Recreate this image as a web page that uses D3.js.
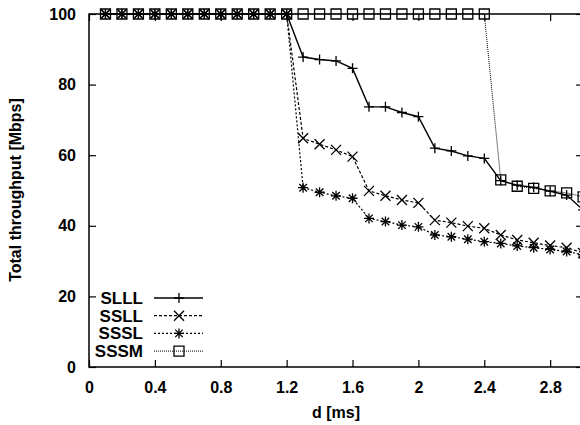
<!DOCTYPE html>
<html>
<head>
<meta charset="utf-8">
<script src="https://cdn.jsdelivr.net/npm/d3@7"></script>
<style>
  html, body { margin: 0; padding: 0; background: #fff; }
  svg { display: block; }
  text { font-family: "Liberation Sans", Arial, sans-serif; font-weight: bold; fill: #000; }
</style>
</head>
<body>
<script>
// d values (ms)
let dValues = [0.1,0.2,0.3,0.4,0.5,0.6,0.7,0.8,0.9,1.0,1.1,1.2,1.3,1.4,1.5,
               1.6,1.7,1.8,1.9,2.0,2.1,2.2,2.3,2.4,2.5,2.6,2.7,2.8,2.9,3.0];

let slll = [100,100,100,100,100,100,100,100,100,100,100,100,87.8,87.1,86.7,
            84.6,73.7,73.7,72.1,70.9,62.0,61.2,59.8,59.1,52.8,51.5,50.9,49.8,48.7,44.5];
let ssll = [100,100,100,100,100,100,100,100,100,100,100,100,64.8,63.1,61.5,
            59.6,49.9,48.5,47.3,46.5,41.6,40.9,39.9,39.3,37.4,36.0,35.2,34.4,33.8,32.3];
let sssl = [100,100,100,100,100,100,100,100,100,100,100,100,50.8,49.5,48.5,
            47.8,42.1,41.2,40.2,39.7,37.4,36.9,36.2,35.5,35.0,34.3,33.8,33.3,32.7,31.8];
let sssm = [100,100,100,100,100,100,100,100,100,100,100,100,100,100,100,
            100,100,100,100,100,100,100,100,100,53.0,51.2,50.6,49.9,49.3,48.2];

let seriesNames = ["SLLL","SSLL","SSSL","SSSM"];
let xTicks = [0,0.4,0.8,1.2,1.6,2,2.4,2.8];
let yTicks = [0,20,40,60,80,100];

let w = 580, h = 425;

let svg = d3.select('body')
    .append('svg')
    .attr('width', w)
    .attr('height', h);

let x = d3.scaleLinear().domain([0,3]).range([89, 583.1]);
let y = d3.scaleLinear().domain([0,100]).range([367, 14]);

// marker shapes, r = half size
let markers = {
  plus: r => `M${-r},0H${r}M0,${-r}V${r}`,
  cross: r => `M${-r},${-r}L${r},${r}M${-r},${r}L${r},${-r}`,
  star: r => `M${-r},0H${r}M0,${-r}V${r}M${-r*0.75},${-r*0.75}L${r*0.75},${r*0.75}M${-r*0.75},${r*0.75}L${r*0.75},${-r*0.75}`,
  square: r => `M${-r},${-r}H${r}V${r}H${-r}Z`
};

let series = [
  {name: seriesNames[0], values: slll, marker: 'plus', dash: null, width: 1.4},
  {name: seriesNames[1], values: ssll, marker: 'cross', dash: '3,2', width: 1.2},
  {name: seriesNames[2], values: sssl, marker: 'star', dash: '2,2', width: 1.2},
  {name: seriesNames[3], values: sssm, marker: 'square', dash: '1,1', width: 1}
];

// axes (gnuplot-like box, ticks inward)
let tickLen = 7;
let border = svg.append('g');
border.append('rect')
    .attr('x', x(0)).attr('y', y(100))
    .attr('width', x(3) - x(0)).attr('height', y(0) - y(100))
    .attr('fill', 'none').attr('stroke', '#000').attr('stroke-width', 1.5);

let xAxis = svg.append('g')
    .attr('transform', `translate(0,${y(0)})`)
    .call(d3.axisBottom(x).tickValues(xTicks).tickFormat(d => d).tickSizeInner(-tickLen).tickSizeOuter(0).tickPadding(15));
let xAxisTop = svg.append('g')
    .attr('transform', `translate(0,${y(100)})`)
    .call(d3.axisTop(x).tickValues(xTicks).tickFormat('').tickSizeInner(-tickLen).tickSizeOuter(0));
let yAxis = svg.append('g')
    .attr('transform', `translate(${x(0)},0)`)
    .call(d3.axisLeft(y).tickValues(yTicks).tickFormat(d => d).tickSizeInner(-tickLen).tickSizeOuter(0).tickPadding(13));
let yAxisRight = svg.append('g')
    .attr('transform', `translate(${x(3)},0)`)
    .call(d3.axisRight(y).tickValues(yTicks).tickFormat('').tickSizeInner(-tickLen).tickSizeOuter(0));

svg.selectAll('.domain').remove();
svg.selectAll('.tick line').attr('stroke', '#000').attr('stroke-width', 1.2);
xAxis.selectAll('text').style('font-size', '16px').attr('fill', '#000');
yAxis.selectAll('text').style('font-size', '16px').attr('fill', '#000');

// axis titles
svg.append('text')
    .attr('x', 336).attr('y', 418)
    .attr('text-anchor', 'middle')
    .style('font-size', '16px')
    .text('d [ms]');
svg.append('text')
    .attr('transform', 'translate(21,190) rotate(-90)')
    .attr('text-anchor', 'middle')
    .style('font-size', '16px')
    .text('Total throughput [Mbps]');

// lines and markers
let line = d3.line()
    .x((d, i) => x(dValues[i]))
    .y(d => y(d));

series.forEach(s => {
  svg.append('path')
      .attr('d', line(s.values))
      .attr('fill', 'none')
      .attr('stroke', '#000')
      .attr('stroke-width', s.width)
      .attr('stroke-dasharray', s.dash);
  svg.append('g').selectAll('path')
      .data(s.values)
      .enter()
      .append('path')
      .attr('transform', (d, i) => `translate(${x(dValues[i])},${y(d)})`)
      .attr('d', markers[s.marker](5))
      .attr('fill', 'none')
      .attr('stroke', '#000')
      .attr('stroke-width', 1.3);
});

// legend
let legend = svg.append('g');
series.forEach((s, i) => {
  let ly = 298 + i * 17.7;
  legend.append('text')
      .attr('x', 143).attr('y', ly + 6)
      .attr('text-anchor', 'end')
      .style('font-size', '17px')
      .text(s.name);
  legend.append('line')
      .attr('x1', 154).attr('x2', 203)
      .attr('y1', ly).attr('y2', ly)
      .attr('stroke', '#000')
      .attr('stroke-width', s.width)
      .attr('stroke-dasharray', s.dash);
  legend.append('path')
      .attr('transform', `translate(179,${ly})`)
      .attr('d', markers[s.marker](5))
      .attr('fill', 'none')
      .attr('stroke', '#000')
      .attr('stroke-width', 1.3);
});
</script>
</body>
</html>
